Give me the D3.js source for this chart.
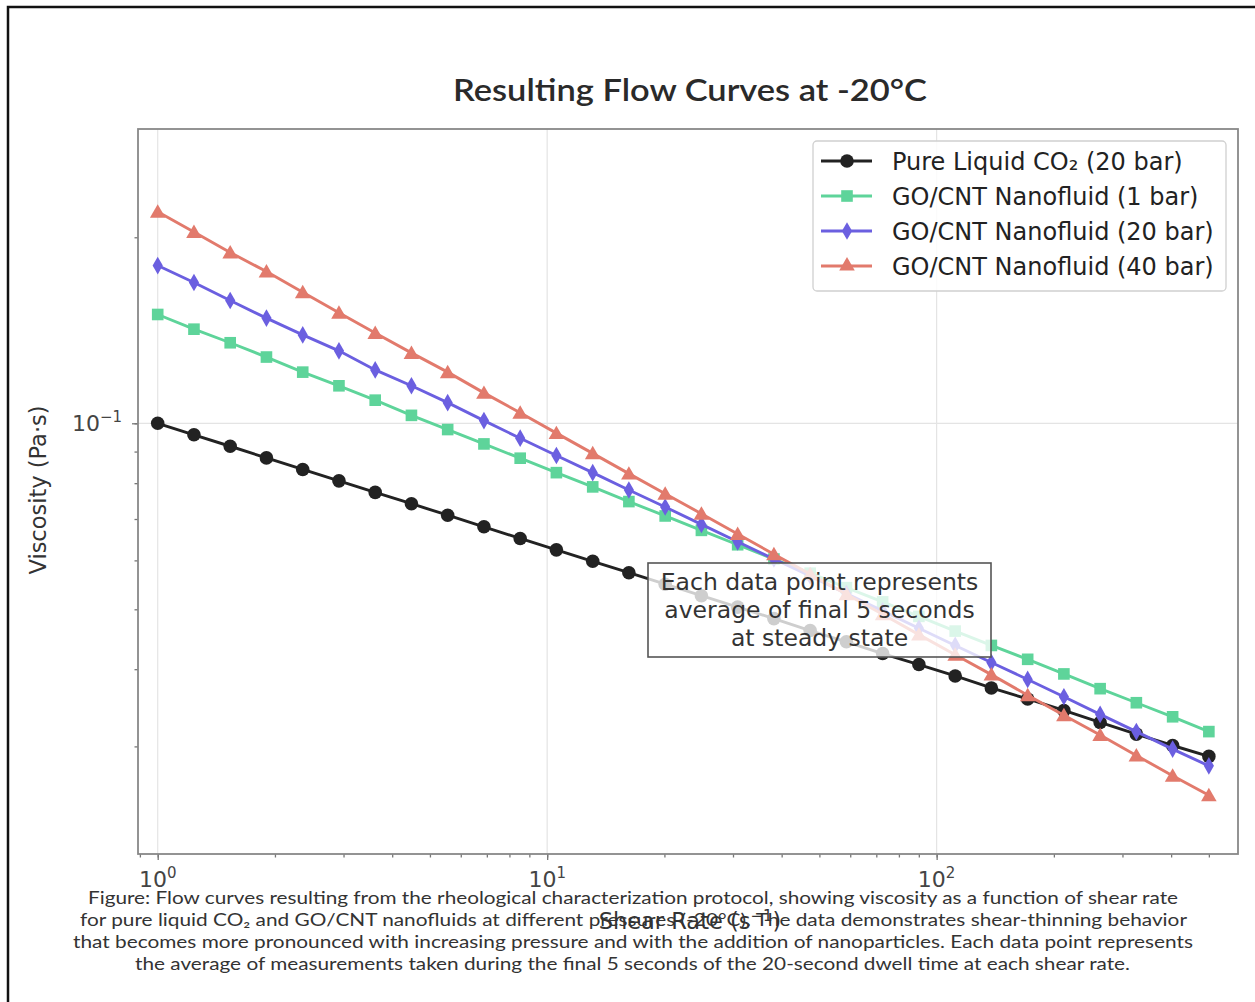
<!DOCTYPE html>
<html>
<head>
<meta charset="utf-8">
<script src="https://cdn.jsdelivr.net/npm/d3@7"></script>
<style>
  body { margin: 0; background: #fff; }
</style>
</head>
<body>
<div id="chart"></div>
<script>
// shear rates (1/s), 30 steps from 1 to 500
var shearRate = [1, 1.239, 1.535, 1.902, 2.357, 2.920, 3.618, 4.482, 5.553, 6.881,
  8.525, 10.56, 13.09, 16.21, 20.09, 24.89, 30.84, 38.21, 47.34, 58.66,
  72.67, 90.04, 111.6, 138.2, 171.3, 212.2, 262.9, 325.7, 403.6, 500];

// viscosity (Pa.s)
var pureCO2 = [0.1000, 0.0958, 0.0918, 0.0879, 0.0842, 0.0807, 0.0773, 0.0741, 0.0710, 0.0680,
  0.0651, 0.0624, 0.0598, 0.0573, 0.0549, 0.0526, 0.0504, 0.0483, 0.0462, 0.0443,
  0.0424, 0.0407, 0.0390, 0.0373, 0.0358, 0.0343, 0.0328, 0.0314, 0.0301, 0.0289];
var nano1bar = [0.150, 0.142, 0.135, 0.128, 0.121, 0.115, 0.109, 0.103, 0.0977, 0.0926,
  0.0878, 0.0832, 0.0789, 0.0747, 0.0708, 0.0671, 0.0636, 0.0603, 0.0572, 0.0542,
  0.0514, 0.0487, 0.0461, 0.0437, 0.0415, 0.0393, 0.0372, 0.0353, 0.0335, 0.0317];
var nano20bar = [0.180, 0.169, 0.158, 0.148, 0.139, 0.131, 0.122, 0.115, 0.108, 0.101,
  0.0946, 0.0887, 0.0832, 0.0780, 0.0732, 0.0686, 0.0643, 0.0603, 0.0566, 0.0530,
  0.0497, 0.0466, 0.0437, 0.0410, 0.0385, 0.0361, 0.0338, 0.0317, 0.0297, 0.0279];
var nano40bar = [0.220, 0.204, 0.189, 0.176, 0.163, 0.151, 0.140, 0.130, 0.121, 0.112,
  0.104, 0.0964, 0.0894, 0.0829, 0.0769, 0.0714, 0.0662, 0.0614, 0.0570, 0.0529,
  0.0491, 0.0455, 0.0422, 0.0392, 0.0363, 0.0337, 0.0313, 0.0290, 0.0269, 0.0250];

var seriesNames = ["Pure Liquid CO\u2082 (20 bar)", "GO/CNT Nanofluid (1 bar)",
  "GO/CNT Nanofluid (20 bar)", "GO/CNT Nanofluid (40 bar)"];
var xTickExp = ["0", "1", "2"];
var yTickExp = ["\u22121"];
var noteLines = ["Each data point represents", "average of final 5 seconds", "at steady state"];
var captionLines = [
  "Figure: Flow curves resulting from the rheological characterization protocol, showing viscosity as a function of shear rate",
  "for pure liquid CO\u2082 and GO/CNT nanofluids at different pressures (-20\u00b0C). The data demonstrates shear-thinning behavior",
  "that becomes more pronounced with increasing pressure and with the addition of nanoparticles. Each data point represents",
  "the average of measurements taken during the final 5 seconds of the 20-second dwell time at each shear rate."
];

var colors = ["#222222", "#5ed49a", "#6b5fe0", "#e27a6c"];
var values = [pureCO2, nano1bar, nano20bar, nano40bar];

// plot box
var boxL = 138, boxT = 129, boxR = 1238, boxB = 854;

var svg = d3.select("#chart")
  .append("svg")
    .attr("width", 1255)
    .attr("height", 1002)
    .style("font-family", "'DejaVu Sans', sans-serif");

// outer frame of the figure
svg.append("rect")
  .attr("x", 8).attr("y", 7)
  .attr("width", 1270).attr("height", 1020)
  .attr("fill", "#fff")
  .attr("stroke", "#111")
  .attr("stroke-width", 2.5);

var x = d3.scaleLog()
  .domain([0.89, 594])
  .range([boxL, boxR]);

var y = d3.scaleLog()
  .domain([0.02009, 0.2994])
  .range([boxB, boxT]);

var xAll = x.ticks();
var xMajor = xAll.filter(function(d) { return Math.abs(Math.log10(d) % 1) < 1e-9; });
var yAll = y.ticks().filter(function(d) { return d >= 0.02009 && d <= 0.2994; });
var yMajor = [0.1];

// grid
svg.append("g")
  .selectAll("line")
  .data(xMajor)
  .enter()
  .append("line")
    .attr("x1", function(d) { return x(d); })
    .attr("x2", function(d) { return x(d); })
    .attr("y1", boxT).attr("y2", boxB)
    .attr("stroke", "#e4e4e4")
    .attr("stroke-width", 1.2);
svg.append("g")
  .selectAll("line")
  .data(yMajor)
  .enter()
  .append("line")
    .attr("x1", boxL).attr("x2", boxR)
    .attr("y1", function(d) { return y(d); })
    .attr("y2", function(d) { return y(d); })
    .attr("stroke", "#e4e4e4")
    .attr("stroke-width", 1.2);

// ticks (major + minor)
svg.append("g")
  .attr("transform", "translate(0," + boxB + ")")
  .call(d3.axisBottom(x).tickValues(xAll).tickSize(3.5).tickFormat(""));
svg.append("g")
  .attr("transform", "translate(0," + boxB + ")")
  .call(d3.axisBottom(x).tickValues(xMajor).tickSize(6).tickFormat(""));
svg.append("g")
  .attr("transform", "translate(" + boxL + ",0)")
  .call(d3.axisLeft(y).tickValues(yAll).tickSize(3.5).tickFormat(""));
svg.append("g")
  .attr("transform", "translate(" + boxL + ",0)")
  .call(d3.axisLeft(y).tickValues(yMajor).tickSize(6).tickFormat(""));
svg.selectAll(".domain").remove();
svg.selectAll(".tick line").attr("stroke", "#777").attr("stroke-width", 1.3);

// tick labels 10^n
var xl = svg.append("g")
  .selectAll("text")
  .data(xMajor)
  .enter()
  .append("text")
    .attr("x", function(d) { return x(d); })
    .attr("y", 887)
    .attr("text-anchor", "middle")
    .attr("fill", "#444")
    .style("font-size", "22px");
xl.append("tspan").text("10");
xl.append("tspan")
  .attr("dy", -9)
  .style("font-size", "15px")
  .text(function(d, i) { return xTickExp[i]; });

var yl = svg.append("g")
  .selectAll("text")
  .data(yMajor)
  .enter()
  .append("text")
    .attr("x", 72)
    .attr("y", function(d) { return y(d) + 8; })
    .attr("fill", "#444")
    .style("font-size", "22px");
yl.append("tspan").text("10");
yl.append("tspan")
  .attr("dy", -9)
  .style("font-size", "15px")
  .text(function(d, i) { return yTickExp[i]; });

// plot frame (spines)
svg.append("rect")
  .attr("x", boxL).attr("y", boxT)
  .attr("width", boxR - boxL).attr("height", boxB - boxT)
  .attr("fill", "none")
  .attr("stroke", "#888")
  .attr("stroke-width", 1.8);

// markers
var markers = [
  d3.symbol().type(d3.symbolCircle).size(145),
  d3.symbol().type(d3.symbolSquare).size(135),
  d3.symbol().type(d3.symbolDiamond).size(90),
  d3.symbol().type(d3.symbolTriangle).size(105)
];

var line = d3.line()
  .x(function(d) { return x(d[0]); })
  .y(function(d) { return y(d[1]); });

values.forEach(function(vals, k) {
  var pts = shearRate.map(function(s, i) { return [s, vals[i]]; });
  var g = svg.append("g");
  g.append("path")
    .datum(pts)
    .attr("fill", "none")
    .attr("stroke", colors[k])
    .attr("stroke-width", 2.9)
    .attr("d", line);
  g.selectAll("path.m")
    .data(pts)
    .enter()
    .append("path")
      .attr("class", "m")
      .attr("d", markers[k])
      .attr("transform", function(d) {
        var dy = k == 3 ? 1.5 : 0;
        return "translate(" + x(d[0]) + "," + (y(d[1]) + dy) + ")";
      })
      .attr("fill", colors[k]);
});

// note box
var note = svg.append("g");
note.append("rect")
  .attr("x", 648).attr("y", 563)
  .attr("width", 343).attr("height", 94)
  .attr("fill", "#fff")
  .attr("fill-opacity", 0.78)
  .attr("stroke", "#555")
  .attr("stroke-width", 1.6);
note.selectAll("text")
  .data(noteLines)
  .enter()
  .append("text")
    .attr("x", 819.5)
    .attr("y", function(d, i) { return 590 + i * 27.8; })
    .attr("text-anchor", "middle")
    .attr("fill", "#333")
    .style("font-size", "23.5px")
    .text(function(d) { return d; });

// legend
var legend = svg.append("g");
legend.append("rect")
  .attr("x", 813).attr("y", 141)
  .attr("width", 413).attr("height", 150)
  .attr("rx", 4)
  .attr("fill", "#fff")
  .attr("fill-opacity", 0.85)
  .attr("stroke", "#d0d0d0")
  .attr("stroke-width", 1.3);
seriesNames.forEach(function(name, k) {
  var ly = 161 + k * 35;
  legend.append("line")
    .attr("x1", 821).attr("x2", 872)
    .attr("y1", ly).attr("y2", ly)
    .attr("stroke", colors[k])
    .attr("stroke-width", 2.9);
  legend.append("path")
    .attr("d", markers[k])
    .attr("transform", "translate(847," + ly + ")")
    .attr("fill", colors[k]);
  legend.append("text")
    .attr("x", 892)
    .attr("y", ly + 8.5)
    .attr("fill", "#222")
    .style("font-size", "24px")
    .text(name);
});

// title
svg.append("text")
  .attr("x", 690)
  .attr("y", 101)
  .attr("text-anchor", "middle")
  .attr("fill", "#2a2a2a")
  .attr("textLength", 474)
  .attr("lengthAdjust", "spacingAndGlyphs")
  .style("font-family", "Lato, sans-serif")
  .style("font-size", "31px")
  .style("font-weight", 600)
  .text("Resulting Flow Curves at -20\u00b0C");

// y label
svg.append("text")
  .attr("transform", "translate(46,490) rotate(-90)")
  .attr("text-anchor", "middle")
  .attr("fill", "#333")
  .style("font-size", "22.5px")
  .text("Viscosity (Pa\u00b7s)");

// caption
var capX = [[88, 1090], [80, 1107], [73, 1120], [135, 995]];
svg.append("g")
  .selectAll("text")
  .data(captionLines)
  .enter()
  .append("text")
    .attr("x", function(d, i) { return capX[i][0]; })
    .attr("y", function(d, i) { return 904 + i * 22; })
    .attr("textLength", function(d, i) { return capX[i][1]; })
    .attr("lengthAdjust", "spacingAndGlyphs")
    .attr("fill", "#333")
    .style("font-family", "Lato, sans-serif")
    .style("font-size", "17px")
    .text(function(d) { return d; });

// x label (sits on top of the caption, as in the source)
var xlab = svg.append("text")
  .attr("x", 690)
  .attr("y", 929)
  .attr("text-anchor", "middle")
  .attr("fill", "#333")
  .style("font-size", "22.5px");
xlab.append("tspan").text("Shear Rate (s");
xlab.append("tspan").attr("dy", -8).style("font-size", "15px").text("\u22121");
xlab.append("tspan").attr("dy", 8).text(")");
</script>
</body>
</html>
